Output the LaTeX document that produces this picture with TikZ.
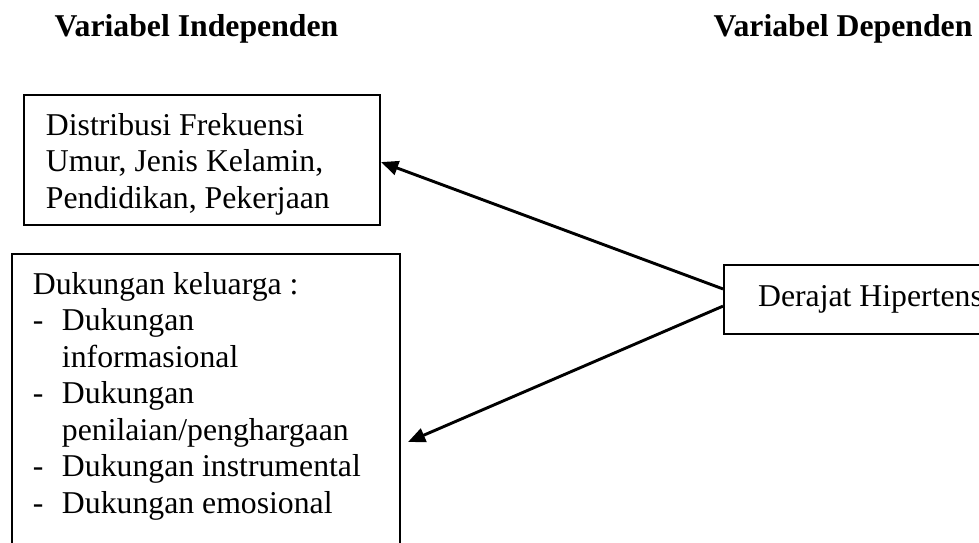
\documentclass[tikz,border=0pt]{standalone}
\usepackage{fontspec}
\setmainfont{Liberation Serif}
\usetikzlibrary{arrows.meta}

\tikzset{
  txt/.style={font=\fontsize{12}{13.8}\selectfont},
  box/.style={txt, draw, line width=0.75pt, anchor=north west, inner ysep=6.9pt},
  link/.style={line width=1.1pt, -{Triangle[length=6.5pt,width=5.4pt]}}
}

\begin{document}
\begin{tikzpicture}[x=0.378pt, y=-0.378pt]

\clip (0,0) rectangle (979,543);

\node [txt, font=\fontsize{12}{13.8}\selectfont\bfseries, anchor=base] (indep) at (196.5,36) {Variabel Independen};
\node [txt, font=\fontsize{12}{13.8}\selectfont\bfseries, anchor=base] (dep) at (843,36) {Variabel Dependen};

\node [box, inner xsep=8.3pt] (freq) at (23,94)
  {\begin{minipage}[t][35.3pt][t]{118pt}
   Distribusi Frekuensi\\
   Umur, Jenis Kelamin,\\
   Pendidikan, Pekerjaan
   \end{minipage}};

\node [box, inner xsep=7.9pt] (dukung) at (11,253)
  {\begin{minipage}[t][107pt][t]{130.9pt}
   Dukungan keluarga :\\
   \makebox[11pt][l]{-}Dukungan\\
   \hspace*{11pt}informasional\\
   \makebox[11pt][l]{-}Dukungan\\
   \hspace*{11pt}penilaian/penghargaan\\
   \makebox[11pt][l]{-}Dukungan instrumental\\
   \makebox[11pt][l]{-}Dukungan emosional
   \end{minipage}};

\node [txt, draw, line width=0.75pt, anchor=north west, minimum height=26.1pt, inner xsep=12.9pt] (hyp) at (723,264) {Derajat Hipertensi};

\coordinate (dtip) at (408,442);

\draw [link] ([yshift=4pt]hyp.west) -- ([yshift=-0.8pt]freq.east);
\draw [link] ([yshift=-2.5pt]hyp.west) -- (dtip);

\end{tikzpicture}
\end{document}
